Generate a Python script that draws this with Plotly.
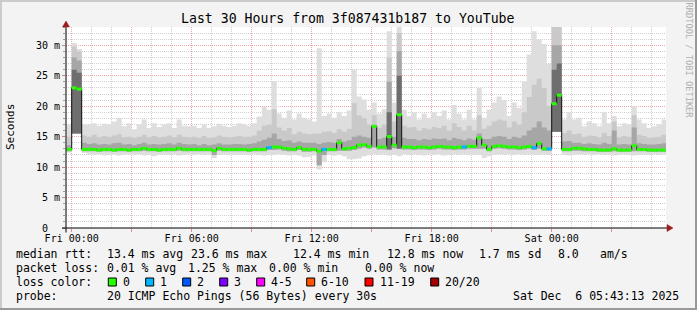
import numpy as np
import plotly.graph_objects as go

# ---------------- data ----------------
# one column every 15 minutes, first column starts at Thu 23:45 (hours relative to Fri 00:00)
STEP_H = 0.25
T0 = -0.25

median_ms = [12.9,23.0,22.8,12.9,12.9,12.9,12.8,12.9,12.9,12.8,
             12.9,12.9,12.8,12.9,12.9,13.1,12.9,12.9,12.8,12.9,
             12.9,12.9,13.1,12.9,12.9,12.9,12.9,12.9,12.9,12.7,
             13.1,12.9,12.9,12.9,12.9,12.9,12.8,12.9,12.9,12.9,
             13.2,13.3,13.3,13.1,13.0,12.9,13.2,12.9,12.9,12.9,
             12.6,12.9,12.9,12.9,14.0,13.0,13.1,13.2,13.6,13.7,
             13.4,16.7,13.3,13.3,15.0,13.6,18.6,13.3,13.3,13.2,
             13.3,13.3,13.2,13.3,13.4,13.3,13.3,13.2,13.3,13.3,
             13.4,13.4,14.8,13.6,12.9,13.4,13.5,13.4,13.3,13.3,
             13.2,13.3,13.4,13.2,13.9,13.0,13.0,20.4,21.8,12.9,
             12.9,13.1,13.1,13.0,12.9,12.9,12.8,12.8,12.8,13.0,
             12.8,12.8,12.8,13.5,12.9,12.9,12.8,12.8,12.8,12.8]

smoke_low = [12.4,15.5,15.5,12.3,12.1,12.0,12.1,11.9,12.0,12.1,
             11.9,12.0,12.1,12.0,12.1,11.9,12.0,11.8,12.0,12.1,
             12.0,12.1,11.9,12.0,12.1,12.0,12.1,12.0,12.1,11.5,
             12.0,12.1,12.0,12.1,12.0,12.1,12.0,12.1,12.0,11.9,
             12.0,12.0,12.1,12.0,11.9,12.0,11.9,11.6,11.7,11.9,
             9.6,10.8,12.0,11.9,12.0,11.8,11.3,11.3,11.4,11.8,
             12.0,12.1,12.0,12.1,11.9,12.0,11.8,12.1,12.0,12.1,
             12.0,11.9,12.1,12.0,12.1,11.9,12.0,12.1,12.0,12.1,
             12.0,12.1,12.0,11.5,11.8,12.0,12.1,12.0,12.1,12.0,
             12.1,12.0,12.1,12.0,12.0,12.1,12.0,15.8,15.8,12.0,
             11.9,12.0,12.1,12.0,12.1,12.0,12.1,12.0,12.1,11.9,
             12.0,12.1,12.0,11.9,12.0,12.1,12.0,12.1,12.0,12.1]

smoke_low2 = [12.6,15.5,15.5,12.6,12.6,12.6,12.5,12.6,12.6,12.5,
              12.6,12.6,12.5,12.6,12.6,12.7,12.6,12.6,12.5,12.6,
              12.6,12.6,12.7,12.6,12.6,12.6,12.6,12.6,12.6,12.0,
              12.7,12.6,12.6,12.6,12.6,12.6,12.5,12.6,12.6,12.6,
              12.8,12.8,12.9,12.7,12.6,12.6,12.8,12.5,12.5,12.6,
              10.3,12.0,12.6,12.6,12.7,12.7,12.7,12.8,13.0,13.2,
              13.0,13.2,12.9,12.9,12.9,13.1,13.0,12.9,12.9,12.8,
              12.9,12.9,12.8,12.9,13.0,12.9,12.9,12.8,12.9,12.9,
              13.0,13.0,13.0,13.0,12.6,13.0,13.1,13.0,12.9,12.9,
              12.8,12.9,13.0,12.8,13.0,12.7,12.7,15.8,15.8,12.6,
              12.6,12.7,12.7,12.6,12.6,12.6,12.5,12.5,12.5,12.6,
              12.5,12.5,12.5,12.6,12.6,12.6,12.5,12.5,12.5,12.5]

smoke_dark = [13.6,28.0,27.5,14.0,13.8,13.9,13.7,13.8,13.7,13.9,
              14.0,13.7,13.8,13.6,13.8,14.0,13.7,13.8,13.7,13.8,
              13.9,13.7,14.0,13.8,13.7,13.8,13.6,13.8,13.6,13.7,
              13.9,13.7,13.7,13.8,13.8,13.7,13.8,13.9,14.2,14.5,
              14.8,15.5,14.6,14.3,14.4,14.0,14.2,14.0,14.0,14.0,
              13.8,14.0,14.1,14.0,14.6,14.2,14.4,15.0,15.2,15.0,
              14.8,16.8,14.6,14.8,24.0,15.0,29.0,14.8,14.6,14.6,
              14.4,14.6,14.5,14.7,14.6,14.7,14.4,14.8,14.6,14.4,
              14.7,14.5,15.5,14.6,14.6,15.0,15.1,15.0,14.6,15.0,
              14.8,15.2,16.0,16.5,17.5,16.5,16.0,30.0,30.0,14.2,
              14.3,14.0,14.0,13.8,13.9,13.8,13.7,14.0,13.8,16.0,
              13.7,13.8,13.7,16.5,13.9,13.8,13.7,13.7,13.8,13.9]

smoke_mid = [15.0,29.8,29.0,15.2,15.0,15.3,14.9,15.1,15.0,15.2,
             15.4,14.9,15.0,14.8,15.0,15.3,14.9,15.1,14.9,15.0,
             15.2,14.9,15.3,15.0,14.9,15.0,14.8,15.1,14.8,14.9,
             15.2,15.0,14.9,15.0,15.1,15.0,15.0,15.2,16.0,16.8,
             17.0,19.5,16.5,16.0,16.4,15.4,15.8,15.5,15.4,15.5,
             15.5,15.8,15.9,15.6,16.2,15.8,16.3,20.5,18.5,18.0,
             17.0,18.5,16.5,17.0,28.0,17.5,32.0,16.8,16.5,16.6,
             16.0,16.4,16.2,16.6,16.4,16.8,16.0,17.2,16.6,16.0,
             16.8,16.0,18.5,16.3,16.8,17.5,17.8,17.6,16.5,17.5,
             17.0,19.0,21.5,23.5,24.5,23.0,20.0,33.0,33.0,15.6,
             16.0,15.4,15.5,15.0,15.2,15.1,14.9,15.6,15.1,17.5,
             14.9,15.1,15.0,18.5,15.3,15.1,14.8,14.9,15.0,15.3]

smoke_high = [17.0,30.4,29.4,17.0,17.0,17.2,16.8,17.1,17.0,17.5,
              18.1,16.7,17.2,16.2,17.0,17.8,16.4,17.2,16.6,17.0,
              17.2,16.4,17.8,16.8,16.7,16.8,16.4,17.0,16.4,16.7,
              17.1,16.8,16.6,16.8,17.2,17.0,16.8,17.2,18.3,19.9,
              19.4,24.1,18.8,18.1,19.3,17.8,18.8,18.1,17.8,17.5,
              29.5,18.4,18.8,18.1,19.0,18.4,19.3,26.0,21.6,21.1,
              19.4,20.6,18.8,19.5,32.3,20.6,33.0,19.4,18.4,19.0,
              17.8,18.8,18.1,19.0,18.4,19.3,17.8,20.2,18.8,17.8,
              19.4,17.8,23.0,18.1,19.4,20.6,21.6,21.0,18.4,20.6,
              19.7,24.0,28.5,32.3,31.0,30.2,27.0,33.0,33.0,17.8,
              19.0,17.8,18.1,16.7,17.5,17.2,16.7,19.0,17.2,18.4,
              16.7,17.2,17.0,20.0,17.8,17.2,16.4,16.7,17.0,17.8]

# very dark core of the smoke, only where there are spikes (column index -> top in ms)
smoke_core = {1: 26.0, 2: 25.5, 64: 19.0, 66: 25.0, 97: 26.0, 98: 27.0}

# packet loss class of each column (0 = green, 1 = light blue)
loss_class = [0]*120
for _i in (40, 51, 79, 93, 96):
    loss_class[_i] = 1

LOSS_LABELS = ["0", "1", "2", "3", "4-5", "6-10", "11-19", "20/20"]
LOSS_COLORS = ["#26ff00", "#00b8ff", "#0059ff", "#7e00ff", "#ff00ff", "#ff5500", "#ff0000", "#a10000"]

XTICK_HOURS = [0, 6, 12, 18, 24]
XTICK_LABELS = ["Fri 00:00", "Fri 06:00", "Fri 12:00", "Fri 18:00", "Sat 00:00"]
YTICK_VALUES = [0, 5, 10, 15, 20, 25, 30]
YTICK_LABELS = ["0\u00a0\u00a0", "5 m", "10 m", "15 m", "20 m", "25 m", "30 m"]

TITLE = "Last 30 Hours from 3f087431b187 to YouTube"
RTT_STATS = ["13.4 ms avg", "23.6 ms max", "12.4 ms min", "12.8 ms now", "1.7 ms sd", "8.0", "am/s"]
LOSS_STATS = ["0.01 % avg", "1.25 % max", "0.00 % min", "0.00 % now"]
PROBE_TEXT = "20 ICMP Echo Pings (56 Bytes) every 30s"
STAMP_TEXT = "Sat Dec  6 05:43:13 2025"

# ---------------- layout constants ----------------
W, H = 697, 310
ML, MR, MT, MB = 66, 31, 27, 82
PW, PH = W - ML - MR, H - MT - MB
X_RANGE = [-0.285, 29.715]
Y_RANGE = [0, 33]
MONO = "DejaVu Sans Mono"


def px(x):
    return (x - ML) / PW


def py(y):
    return 1 - (y - MT) / PH


n = len(median_ms)
t_edges = T0 + STEP_H * np.arange(n + 1)


def ext(a):
    a = list(a)
    return a + [a[-1]]


core_top = [smoke_core.get(i, smoke_low2[i]) for i in range(n)]

fig = go.Figure()


def band(bottom, top, color):
    fig.add_trace(go.Scatter(x=t_edges, y=ext(bottom), mode="lines",
                             line=dict(width=0, shape="hv"), hoverinfo="skip", showlegend=False))
    fig.add_trace(go.Scatter(x=t_edges, y=ext(top), mode="lines",
                             line=dict(width=0, shape="hv"), fill="tonexty", fillcolor=color,
                             hoverinfo="skip", showlegend=False))


band(smoke_low, smoke_high, "#dedede")
band(smoke_low2, smoke_mid, "#c9c9c9")
band(smoke_low2, smoke_dark, "#a6a6a6")
band(smoke_low2, core_top, "#6e6e6e")

# median: thin dark connecting line, then loss-coloured steps on top
fig.add_trace(go.Scatter(x=t_edges, y=ext(median_ms), mode="lines",
                         line=dict(width=1, color="#111111", shape="hv"),
                         hoverinfo="skip", showlegend=False))
for lvl in sorted(set(loss_class)):
    xs, ys = [], []
    for i in range(n):
        if loss_class[i] == lvl:
            xs += [t_edges[i], t_edges[i + 1], None]
            ys += [median_ms[i], median_ms[i], None]
    fig.add_trace(go.Scatter(x=xs, y=ys, mode="lines",
                             line=dict(width=3, color=LOSS_COLORS[lvl]),
                             hoverinfo="skip", showlegend=False))

MAJOR_GRID = "#f0a8a8"
MINOR_GRID = "#cfcfcf"
DOTS = "1px,1px"

fig.update_xaxes(range=X_RANGE, tickmode="array",
                 tickvals=list(range(0, 30, 3)),
                 ticktext=[XTICK_LABELS[XTICK_HOURS.index(h)] if h in XTICK_HOURS else "" for h in range(0, 30, 3)],
                 showgrid=True, gridcolor=MAJOR_GRID, griddash=DOTS, gridwidth=1,
                 ticks="outside", ticklen=3, tickcolor="#e09090", tickwidth=1,
                 ticklabelstandoff=-2,
                 tickfont=dict(family=MONO, size=10, color="#000000"),
                 minor=dict(tickmode="linear", tick0=0, dtick=1, showgrid=True,
                            gridcolor=MINOR_GRID, griddash=DOTS, gridwidth=1),
                 zeroline=False, showline=False, automargin=False, fixedrange=True)
fig.update_yaxes(range=Y_RANGE, tickmode="array", tickvals=YTICK_VALUES, ticktext=YTICK_LABELS,
                 showgrid=True, gridcolor=MAJOR_GRID, griddash=DOTS, gridwidth=1,
                 ticks="outside", ticklen=3, tickcolor="#d08080", tickwidth=1,
                 tickfont=dict(family=MONO, size=10, color="#000000"),
                 minor=dict(tickmode="linear", tick0=0, dtick=1, showgrid=True,
                            gridcolor=MINOR_GRID, griddash=DOTS, gridwidth=1,
                            ticks="outside", ticklen=2, tickcolor="#a0a0a0"),
                 zeroline=False, showline=False, automargin=False, fixedrange=True)

shapes = []
# frame of the image
shapes.append(dict(type="line", xref="paper", yref="paper", x0=px(0), x1=px(W), y0=py(1), y1=py(1),
                   line=dict(color="#cbcbcb", width=2)))
shapes.append(dict(type="line", xref="paper", yref="paper", x0=px(1), x1=px(1), y0=py(0), y1=py(H),
                   line=dict(color="#cbcbcb", width=2)))
shapes.append(dict(type="line", xref="paper", yref="paper", x0=px(0), x1=px(W), y0=py(H - 1), y1=py(H - 1),
                   line=dict(color="#999999", width=2)))
shapes.append(dict(type="line", xref="paper", yref="paper", x0=px(W - 1), x1=px(W - 1), y0=py(0), y1=py(H),
                   line=dict(color="#999999", width=2)))
# axes with arrows
AX_Y = MT + PH
shapes.append(dict(type="line", xref="paper", yref="paper", x0=px(ML), x1=px(ML), y0=py(AX_Y + 4.5), y1=py(MT - 2),
                   line=dict(color="#000000", width=1)))
shapes.append(dict(type="line", xref="paper", yref="paper", x0=px(ML - 4), x1=px(ML + PW + 2), y0=py(AX_Y), y1=py(AX_Y),
                   line=dict(color="#000000", width=1)))
ARROW = "#9b1c1c"
shapes.append(dict(type="path", xref="paper", yref="paper",
                   path=f"M {px(ML-3.5)},{py(MT)} L {px(ML+3.5)},{py(MT)} L {px(ML)},{py(MT-6)} Z",
                   fillcolor=ARROW, line=dict(color=ARROW, width=0.5)))
shapes.append(dict(type="path", xref="paper", yref="paper",
                   path=f"M {px(ML+PW+1)},{py(AX_Y-3.5)} L {px(ML+PW+1)},{py(AX_Y+3.5)} L {px(ML+PW+7)},{py(AX_Y)} Z",
                   fillcolor=ARROW, line=dict(color=ARROW, width=0.5)))

annotations = []


def text(x, y, s, size=11.5, color="#000000", xanchor="left", angle=0):
    annotations.append(dict(xref="paper", yref="paper", x=px(x), y=py(y), text=s.replace("  ", " \u00a0"),
                            showarrow=False, xanchor=xanchor, yanchor="middle", textangle=angle,
                            borderpad=0, borderwidth=0,
                            font=dict(family=MONO, size=size, color=color)))


text(348, 19, TITLE, size=13.2, xanchor="center")
text(688.5, 60, "RRDTOOL / TOBI OETIKER", size=8.7, color="#b0b0b0", xanchor="center", angle=90)
text(11, 127, "Seconds", size=11, xanchor="center", angle=-90)

ROW_Y = [254, 268, 282, 296]
text(16, ROW_Y[0], "median rtt:")
for s, x in zip(RTT_STATS, [107.3, 190.7, 293.3, 386.7, 479.3, 558.3, 600]):
    text(x, ROW_Y[0], s)
text(16, ROW_Y[1], "packet loss:")
for s, x in zip(LOSS_STATS, [107.3, 188.3, 269.3, 365]):
    text(x, ROW_Y[1], s)
text(16, ROW_Y[2], "loss color:")
BOX_X = [108.3, 145.7, 182.7, 219.7, 256.7, 306.7, 365, 430.7]
for lab, col, bx in zip(LOSS_LABELS, LOSS_COLORS, BOX_X):
    shapes.append(dict(type="rect", xref="paper", yref="paper", x0=px(bx), x1=px(bx + 8),
                       y0=py(ROW_Y[2] - 4), y1=py(ROW_Y[2] + 4), fillcolor=col,
                       line=dict(color="#000000", width=1)))
    text(bx + 14.5, ROW_Y[2], lab)
text(16, ROW_Y[3], "probe:")
text(107.3, ROW_Y[3], PROBE_TEXT)
text(513.3, ROW_Y[3], STAMP_TEXT)

fig.update_layout(width=W, height=H, margin=dict(l=ML, r=MR, t=MT, b=MB, pad=0, autoexpand=False),
                  paper_bgcolor="#f3f3f3", plot_bgcolor="#ffffff",
                  showlegend=False, shapes=shapes, annotations=annotations,
                  hovermode=False)

fig.write_html("out.html", config={"displayModeBar": False, "staticPlot": True})
